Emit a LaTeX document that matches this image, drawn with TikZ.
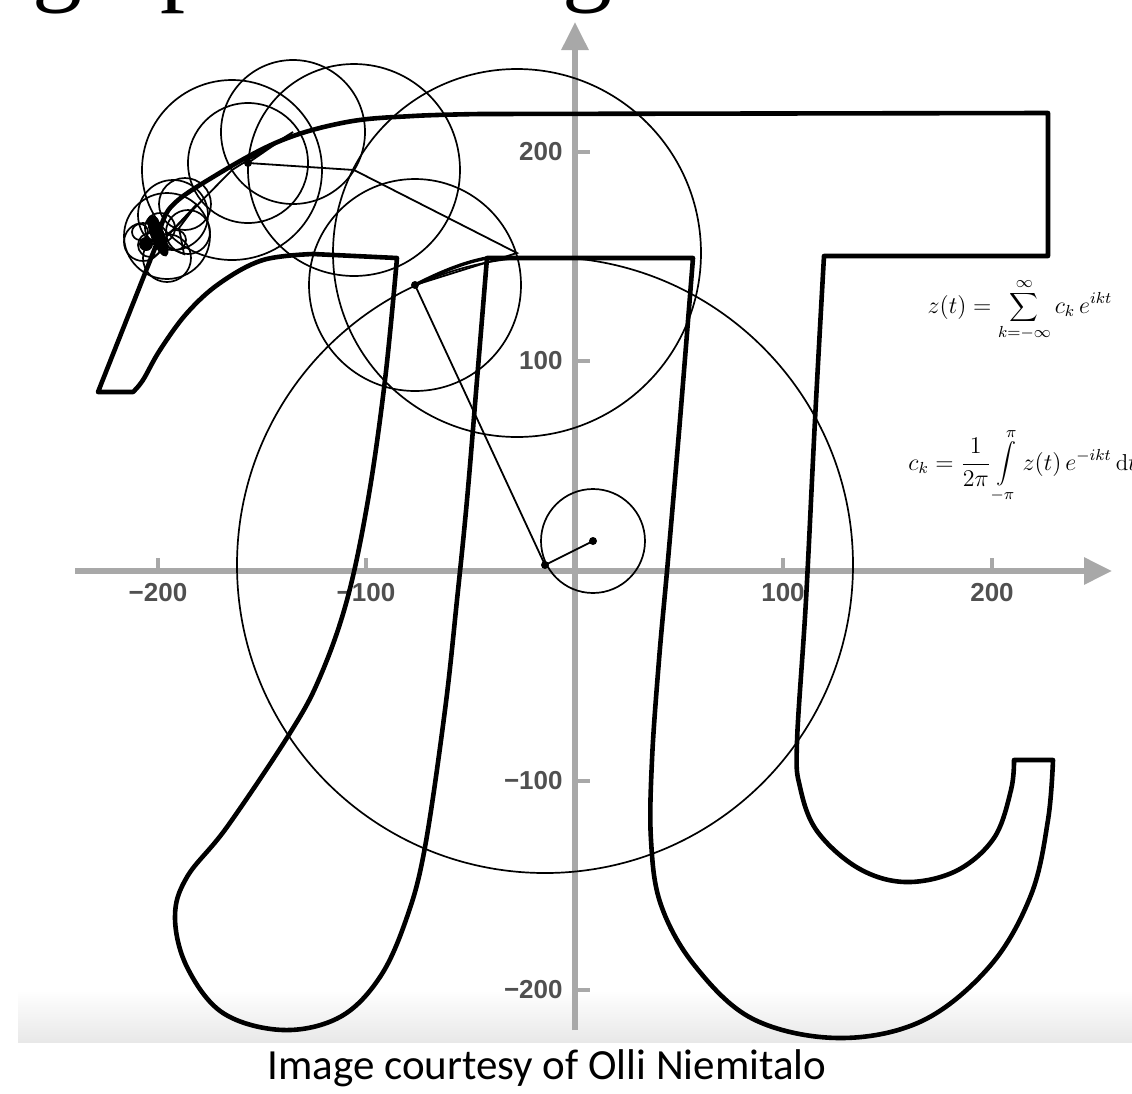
\documentclass[tikz,border=0pt]{standalone}
\usepackage{fontspec}
\setsansfont{Liberation Sans}
\newfontfamily\capfont{Carlito}
\newfontfamily\titlefont{Liberation Serif}
\usetikzlibrary{arrows.meta}
\definecolor{axisgray}{RGB}{168,168,168}
\definecolor{lblgray}{RGB}{80,80,80}
\definecolor{bandgray}{RGB}{232,232,232}
\tikzset{
  picurve/.style={line width=2.3pt, line join=round},
  epicircle/.style={line width=0.85pt},
  arm/.style={line width=0.9pt},
  axisline/.style={draw=axisgray, line width=3pt, -{Triangle[length=14pt,width=13pt]}},
  tickmark/.style={draw=axisgray, line width=1.6pt},
  ticklbl/.style={font=\sffamily\bfseries\fontsize{13}{15}\selectfont, text=lblgray, inner sep=0pt},
  formula/.style={font=\fontsize{11.5}{14}\selectfont, inner sep=0pt}
}

\begin{document}
\begin{tikzpicture}[x=0.5pt, y=-0.5pt]
  \useasboundingbox (0,0) rectangle (1132,1094);

  % cut-off slide title
  \begin{scope}
    \clip (0,0) rectangle (1132,60);
    \node[anchor=base west, inner sep=0pt, font=\titlefont\fontsize{50}{50}\selectfont] (title) at (32,-8) {graph drawing};
  \end{scope}

  % grey band and caption
  \shade[top color=white, bottom color=bandgray] (18,990) rectangle (1132,1042);
  \node[font=\capfont\fontsize{21.5}{24}\selectfont] (caption) at (547,1068) {Image courtesy of Olli Niemitalo};

  % axes
  \coordinate (xstart) at (75,571);
  \coordinate (xend) at (1112,571);
  \coordinate (ystart) at (575,1030);
  \coordinate (yend) at (575,22);
  \draw[axisline] (xstart) -- (xend);
  \draw[axisline] (ystart) -- (yend);
  \foreach \px/\lbl in {158/−200, 366/−100, 783/100, 992/200}{
    \draw[tickmark] (\px,571) -- ++(0,-13);
    \node[ticklbl] at (\px,593) {\lbl};
  }
  \foreach \py/\lbl in {152/200, 361/100, 781/−100, 990/−200}{
    \draw[tickmark] (575,\py) -- ++(15,0);
    \node[ticklbl, anchor=east] at (563,\py) {\lbl};
  }

  % formulas
  \node[formula] (zsum) at (1020,310) {$\displaystyle z(t)=\sum_{k=-\infty}^{\infty} c_k\,e^{ikt}$};
  \node[formula, anchor=west] (ckint) at (908,466) {$\displaystyle c_k=\frac{1}{2\pi}\int\limits_{-\pi}^{\pi} z(t)\,e^{-ikt}\,\mathrm{d}t$};

  % the pi outline
  \draw[picurve] (157,243)
    -- plot[smooth, tension=0.6] coordinates {(157,243) (170,208) (213,177) (280,141) (347,122) (413,116) (480,114)}
    -- (1048,113) -- (1048,256) -- (824,256)
    -- plot[smooth, tension=0.6] coordinates {(824,256) (815,420) (806,600) (797,742) (800,787) (817,831) (858,868) (905,882) (956,871) (994,838) (1011,790) (1014,760)}
    -- (1053,760)
    -- plot[smooth, tension=0.6] coordinates {(1053,760) (1048,820) (1031,895) (990,966) (922,1021) (838,1038) (753,1019) (695,966) (661,905) (651,840) (652,760) (659,660) (668,560) (680,420) (693,258)}
    -- (487,258)
    -- plot[smooth, tension=0.6] coordinates {(487,258) (477,380) (467,500) (457,600) (445,710) (425,847) (407,917) (380,977) (340,1017) (283,1030) (223,1013) (187,967) (175,917) (187,877) (227,827) (290,733) (320,677) (347,600) (368,500) (385,380) (397,258)}
    -- (313,254)
    -- plot[smooth, tension=0.6] coordinates {(313,254) (263,260) (220,283) (187,313) (160,350) (143,380) (133,392)}
    -- (98,392) -- cycle;

  % epicycle chain
  \coordinate (p0) at (593,541);
  \coordinate (p1) at (545,565);
  \coordinate (p2) at (415,285);
  \coordinate (p3) at (517,253);
  \coordinate (p4) at (354,170);
  \coordinate (p5) at (248,163);
  \coordinate (p6) at (293,132);
  \coordinate (p7) at (232,170);
  \coordinate (p8) at (167,236);
  \coordinate (corner) at (487,258);
  \draw[epicircle] (p0) circle[radius=52];
  \draw[epicircle] (p1) circle[radius=308];
  \draw[epicircle] (p2) circle[radius=106];
  \draw[epicircle] (p3) circle[radius=184];
  \draw[epicircle] (p4) circle[radius=106];
  \draw[epicircle] (p5) circle[radius=60];
  \draw[epicircle] (p6) circle[radius=72];
  \draw[epicircle] (p7) circle[radius=90];
  \draw[epicircle] (p8) circle[radius=43];
  \draw[arm] (p0) -- (p1) -- (p2) -- (p3) -- (p4) -- (p5) -- (p6) -- (p7) -- (p8);
  \draw[picurve, line width=1.7pt] (p2) .. controls (440,272) and (465,262) .. (corner);
  \foreach \c in {p0,p1,p2,p5}
    \fill (\c) circle[radius=4];

  % small circles near the pen
  \foreach \cx/\cy/\r in {185/204/26, 173/215/35, 188/232/22, 167/258/24, 143/242/19, 160/228/15, 150/245/12, 176/240/10, 140/232/8}
    \draw[epicircle] (\cx,\cy) circle[radius=\r];
  \draw[arm] (p8) -- (197,204) -- (179,228) -- (184,254) -- (162,245) -- (150,229) -- (157,243);
  \fill[rotate around={-68:(158,236)}] (158,236) ellipse[x radius=22, y radius=7];
  \fill (146,244) circle[radius=7];
  \fill (153,222) circle[radius=6];
\end{tikzpicture}
\end{document}
